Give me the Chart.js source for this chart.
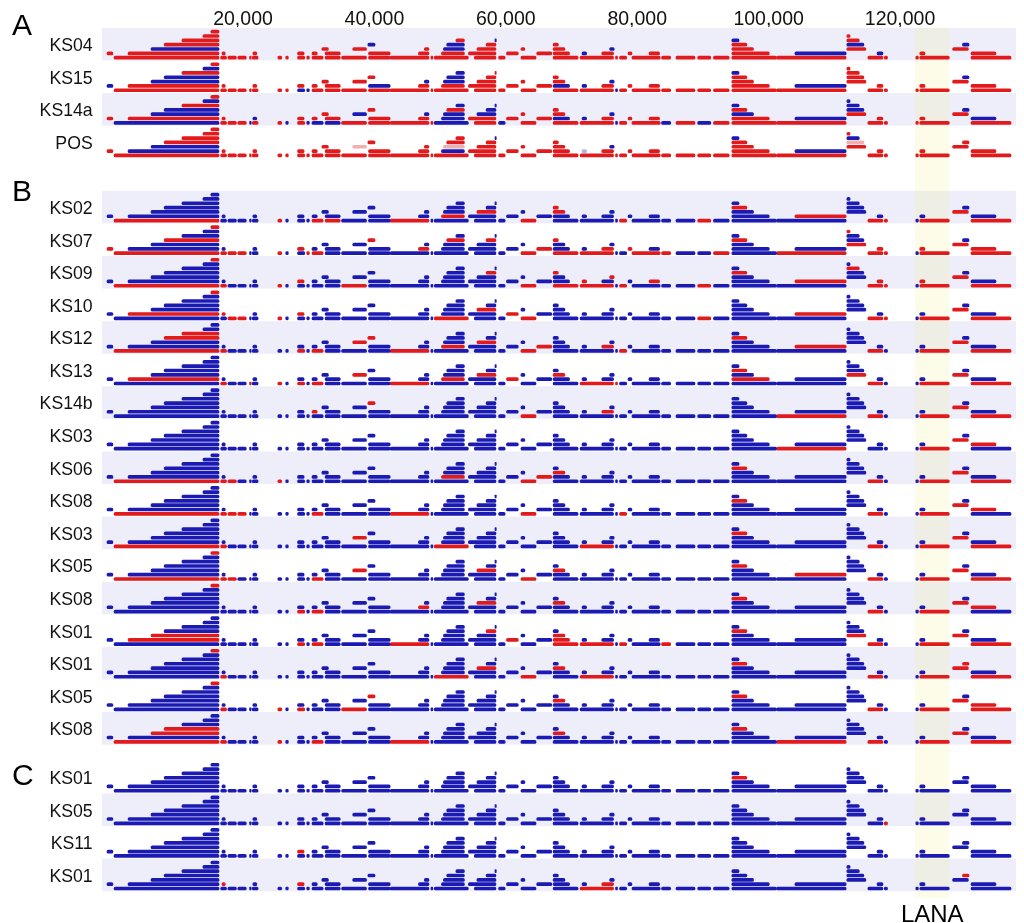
<!DOCTYPE html>
<html><head><meta charset="utf-8">
<script src="https://cdn.jsdelivr.net/npm/chart.js@4"></script>
<style>html,body{margin:0;padding:0;background:#fff}#wrap{width:1024px;height:923px;position:relative}</style>
</head><body><div id="wrap"><canvas id="c"></canvas></div>
<script>
// ---------------- data ----------------
const xTicks = [20000, 40000, 60000, 80000, 100000, 120000];
const panelNames = ['A', 'B', 'C'];
const panelA = ['KS04', 'KS15', 'KS14a', 'POS'];
const panelB = ['KS02', 'KS07', 'KS09', 'KS10', 'KS12', 'KS13', 'KS14b', 'KS03', 'KS06', 'KS08', 'KS03', 'KS05', 'KS08', 'KS01', 'KS01', 'KS05', 'KS08'];
const panelC = ['KS01', 'KS05', 'KS11', 'KS01'];
const lanaRegion = [122300, 127500];
const lanaLabel = 'LANA';

// transcript segments (genome start, end, stack level)
const segStart = [370,-700,2500,6000,8000,10700,13900,15100,16600,16800,17700,19200,21000,21400,21500,25300,26500,28300,28300,29700,30500,30500,32000,32500,32500,35000,36700,39100,39000,42400,46700,47600,48600,49100,50200,50500,51000,52400,54300,55200,55600,57000,58350,58900,60100,62300,62300,64700,67200,67200,67200,71600,71300,74600,75800,76700,77300,78600,79200,81800,83700,85900,89200,91600,94400,101200,94400,104000,94400,94400,94400,111900,111900,111900,111900,115100,117600,116500,122400,123000,123000,128000,129500,130800,130800,39100,67200];
const segEnd   = [16350,200,16350,16350,16350,16350,16350,16350,17500,17300,19000,20500,21250,22300,22100,25900,26900,29400,29300,30100,32200,31300,33000,34800,34800,38800,38800,42400,40100,48300,48300,48300,48900,54300,53700,53700,53700,53700,58500,58500,58500,58500,58550,59900,61900,62900,64600,67000,69000,69700,71000,72300,76400,76400,76500,77000,78400,79200,83500,83400,85100,88800,91200,94000,101200,111800,100100,111800,97700,96700,95500,114800,114500,113800,112400,117400,118100,117400,122800,127500,123800,130400,130500,134600,136900,42400,68000];
const segLevel = [0,1,1,2,3,4,5,6,0,1,0,0,0,0,1,0,0,0,1,0,0,1,2,0,1,0,2,1,3,0,1,2,0,0,1,2,3,4,1,0,2,3,4,0,1,2,0,1,2,1,0,1,0,1,2,0,0,1,0,1,0,0,0,0,0,0,1,1,2,3,4,2,3,4,5,0,0,1,0,0,1,2,3,1,0,0,3];

// segments whose colour differs from the panel default (A: red default, B/C: blue default)
const flipA = [
  [3,28,35,36,42,51,54,67,70,72,77,82],
  [1,3,4,6,17,19,27,31,35,36,37,49,51,54,55,67,70,82],
  [0,3,4,6,12,14,16,19,20,23,26,31,33,34,35,37,40,41,42,43,49,51,54,55,60,62,67,68,70,72,73,74,82,83],
  [2,3,34,42,54,67,70,73]
];
const flipB = [
  [0,15,20,23,29,34,40,46,48,86,56,62,67,69,75,76,79,81,84],
  [0,1,4,7,8,10,11,15,18,19,20,28,30,36,41,46,47,86,50,52,53,57,58,60,63,65,69,71,74,75,76,77,79,80,81,83,84],
  [0,7,8,15,18,25,41,46,86,50,51,52,54,56,59,62,67,69,73,75,76,77,79,80,81,84],
  [2,7,9,10,11,15,18,33,40,44,46,62,67,75,76,79,81,84],
  [0,4,5,8,17,20,26,28,29,34,40,46,47,53,56,67,69,75,79,81,84],
  [2,8,12,15,17,20,26,29,34,40,44,48,52,55,66,69,71,75,79,81,84],
  [21,28,46,53,65,75,79,81,84],
  [65,79,81,83],
  [0,8,10,15,34,46,47,48,69,75,79,81,84],
  [0,8,10,11,20,29,46,56,69,75,79,81,83],
  [0,8,26,33,52,69,75,79,81,84],
  [0,7,8,10,20,26,40,46,48,69,67,75,79,81,84],
  [7,17,20,30,40,48,69,75,79,81,83],
  [2,3,17,20,29,41,44,48,49,50,52,56,60,69,71,75,79,81,84],
  [7,8,33,40,46,48,52,69,75,79,81,82,84],
  [7,8,15,17,25,28,48,69,75,79,81,83,84],
  [0,3,4,8,15,20,29,48,65,69,75,79,81,84]
];
const flipC = [
  [69],
  [76],
  [18],
  [9,18,52,53,82]
];
// faint (pale) segments in the POS row
const posPaleRed = [26,35,72];
const posPaleBlue = [51];

// ---------------- layout constants ----------------
const panelStart = [0, 5, 22.5];
const ROW_BOTTOM = 0.414, LEVEL_STEP = 0.133;
const RED = '#e21a1c', BLUE = '#1b1bb3', PALE_RED = '#eeb0b0', PALE_BLUE = '#b4b4dc';

const panels = [
  {names: panelA, flips: flipA, def: 'red'},
  {names: panelB, flips: flipB, def: 'blue'},
  {names: panelC, flips: flipC, def: 'blue'}
];
const rowPos = [], rowNames = [];
const red = [], blue = [], paleRed = [], paleBlue = [];
panels.forEach((p, pi) => {
  p.names.forEach((name, i) => {
    const pos = panelStart[pi] + i;
    rowPos.push(pos); rowNames.push(name);
    const flips = p.flips[i];
    const isPos = (pi === 0 && name === 'POS');
    for (let k = 0; k < segStart.length; k++) {
      const pt = {x: [segStart[k], segEnd[k]], y: pos + ROW_BOTTOM - segLevel[k] * LEVEL_STEP};
      if (isPos && posPaleRed.includes(k)) { paleRed.push(pt); continue; }
      if (isPos && posPaleBlue.includes(k)) { paleBlue.push(pt); continue; }
      let c = p.def;
      if (flips.includes(k)) c = (c === 'red') ? 'blue' : 'red';
      (c === 'red' ? red : blue).push(pt);
    }
  });
});

const bgPlugin = {
  id: 'bands',
  beforeDatasetsDraw(chart) {
    const {ctx, chartArea, scales} = chart;
    const y = scales.y, x = scales.x;
    ctx.save();
    ctx.fillStyle = '#eeeefa';
    rowPos.forEach((p, g) => {
      if (g % 2 !== 0) return;
      const t = y.getPixelForValue(p - 0.5), b = y.getPixelForValue(p + 0.5);
      ctx.fillRect(chartArea.left, t, chartArea.right - chartArea.left, b - t);
    });
    const lx0 = x.getPixelForValue(lanaRegion[0]), lx1 = x.getPixelForValue(lanaRegion[1]);
    const top = y.getPixelForValue(rowPos[0] - 0.5);
    ctx.fillStyle = 'rgba(240,240,150,0.22)';
    ctx.fillRect(lx0, top, lx1 - lx0, chartArea.bottom - top);
    ctx.restore();
  },
  afterDraw(chart) {
    const {ctx, scales} = chart;
    ctx.save();
    ctx.fillStyle = '#000';
    ctx.font = '30px "Liberation Sans", Arial, sans-serif';
    ctx.textAlign = 'left';
    ctx.textBaseline = 'alphabetic';
    const letterY = [35, 201, 785];
    panelNames.forEach((n, i) => ctx.fillText(n, 12, letterY[i]));
    ctx.font = '24px "Liberation Sans", Arial, sans-serif';
    ctx.textAlign = 'center';
    const lx = (scales.x.getPixelForValue(lanaRegion[0]) + scales.x.getPixelForValue(lanaRegion[1])) / 2;
    ctx.fillText(lanaLabel, lx, 922);
    ctx.restore();
  }
};

const ds = (data, color) => ({data, backgroundColor: color, borderWidth: 0, borderRadius: 1.5, borderSkipped: false, barThickness: 3, grouped: false, clip: false});

new Chart(document.getElementById('c'), {
  type: 'bar',
  data: {datasets: [ds(blue, BLUE), ds(red, RED), ds(paleRed, PALE_RED), ds(paleBlue, PALE_BLUE)]},
  options: {
    indexAxis: 'y',
    responsive: true,
    maintainAspectRatio: false,
    animation: false,
    events: [],
    layout: {padding: {left: 0, right: 8, top: 0, bottom: 25}},
    plugins: {legend: {display: false}, tooltip: {enabled: false}},
    scales: {
      x: {
        type: 'linear', position: 'top', min: -1460, max: 137650, offset: false,
        grid: {display: false, drawTicks: false}, border: {display: false},
        afterBuildTicks: s => { s.ticks = xTicks.map(v => ({value: v})); },
        afterFit: s => { s.height = 27; },
        ticks: {padding: -4, color: '#111', font: {family: '"Liberation Sans", Arial, sans-serif', size: 19.5}, autoSkip: false, maxRotation: 0,
          callback: v => v.toLocaleString('en-US')}
      },
      y: {
        type: 'linear', reverse: true, min: -0.528, max: 26.206, offset: false,
        grid: {display: false, drawTicks: false, offset: false}, border: {display: false},
        afterBuildTicks: s => { s.ticks = rowPos.map(v => ({value: v})); },
        afterFit: s => { s.width = 102; },
        ticks: {padding: 9.3, labelOffset: 2, color: '#111', font: {family: '"Liberation Sans", Arial, sans-serif', size: 17.7}, autoSkip: false,
          callback: (v, i) => rowNames[i]}
      }
    }
  },
  plugins: [bgPlugin]
});
</script>
</body></html>
